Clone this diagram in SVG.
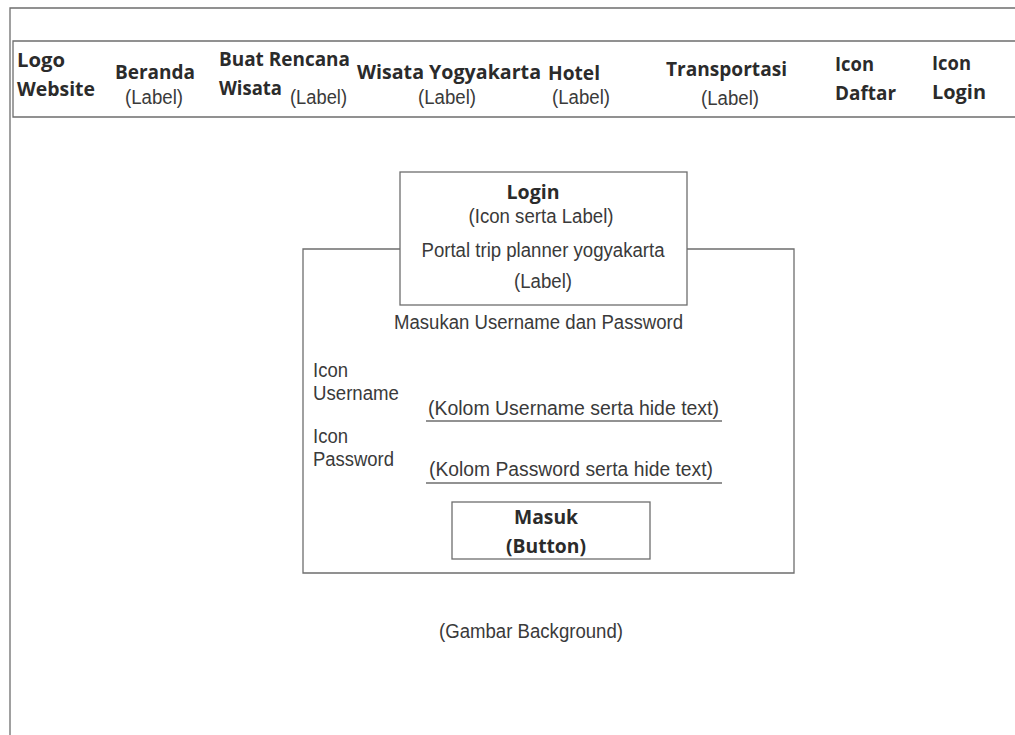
<svg xmlns="http://www.w3.org/2000/svg" width="1015" height="735" viewBox="0 0 1015 735">
  <style>
    .frame { fill: none; stroke: #6e6e6e; stroke-width: 1.3; }
    .b { font-family: "Open Sans", "Noto Sans", sans-serif; font-weight: bold; font-size: 19.5px; fill: #2b2b2b; }
    .r { font-family: "Liberation Sans", Arial, sans-serif; font-size: 20px; fill: #3a3a3a; }
    .c { text-anchor: middle; }
  </style>
  <rect width="1015" height="735" fill="#ffffff"/>

  <!-- page frame -->
  <path class="frame" d="M1015 8 H10 V735"/>

  <!-- navigation bar -->
  <g id="navbar">
    <path class="frame" d="M1015 41 H13 V117 H1015"/>
    <g id="nav-logo">
      <text class="b" x="17" y="67" textLength="48" lengthAdjust="spacingAndGlyphs">Logo</text>
      <text class="b" x="17" y="96" textLength="78" lengthAdjust="spacingAndGlyphs">Website</text>
    </g>
    <g id="nav-beranda">
      <text class="b" x="115" y="79" textLength="80" lengthAdjust="spacingAndGlyphs">Beranda</text>
      <text class="r" x="125" y="104" textLength="58" lengthAdjust="spacingAndGlyphs">(Label)</text>
    </g>
    <g id="nav-rencana">
      <text class="b" x="219" y="66" textLength="131" lengthAdjust="spacingAndGlyphs">Buat Rencana</text>
      <text class="b" x="219" y="95" textLength="63" lengthAdjust="spacingAndGlyphs">Wisata</text>
      <text class="r" x="290" y="104" textLength="57" lengthAdjust="spacingAndGlyphs">(Label)</text>
    </g>
    <g id="nav-wisata">
      <text class="b" x="357" y="79" textLength="184" lengthAdjust="spacingAndGlyphs">Wisata Yogyakarta</text>
      <text class="r" x="418" y="104" textLength="58" lengthAdjust="spacingAndGlyphs">(Label)</text>
    </g>
    <g id="nav-hotel">
      <text class="b" x="548" y="80" textLength="52" lengthAdjust="spacingAndGlyphs">Hotel</text>
      <text class="r" x="552" y="104" textLength="58" lengthAdjust="spacingAndGlyphs">(Label)</text>
    </g>
    <g id="nav-transportasi">
      <text class="b" x="666" y="76" textLength="121" lengthAdjust="spacingAndGlyphs">Transportasi</text>
      <text class="r" x="701" y="105" textLength="58" lengthAdjust="spacingAndGlyphs">(Label)</text>
    </g>
    <g id="nav-daftar">
      <text class="b" x="835" y="71" textLength="39" lengthAdjust="spacingAndGlyphs">Icon</text>
      <text class="b" x="835" y="100" textLength="61" lengthAdjust="spacingAndGlyphs">Daftar</text>
    </g>
    <g id="nav-login">
      <text class="b" x="932" y="70" textLength="39" lengthAdjust="spacingAndGlyphs">Icon</text>
      <text class="b" x="932" y="99" textLength="54" lengthAdjust="spacingAndGlyphs">Login</text>
    </g>
  </g>

  <!-- login panel -->
  <g id="login-panel">
    <path class="frame" d="M400 249 H303 V573 H794 V249 H687"/>
  </g>

  <g id="login-header">
    <rect class="frame" x="400" y="172" width="287" height="133"/>
    <text class="b c" x="533" y="199" textLength="53" lengthAdjust="spacingAndGlyphs">Login</text>
    <text class="r c" x="541" y="223" textLength="145" lengthAdjust="spacingAndGlyphs">(Icon serta Label)</text>
    <text class="r c" x="543" y="257" textLength="243" lengthAdjust="spacingAndGlyphs">Portal trip planner yogyakarta</text>
    <text class="r c" x="543" y="288" textLength="58" lengthAdjust="spacingAndGlyphs">(Label)</text>
  </g>

  <g id="instruction">
    <text class="r" x="394" y="329" textLength="289" lengthAdjust="spacingAndGlyphs">Masukan Username dan Password</text>
  </g>

  <g id="field-username">
    <text class="r" x="313" y="377" textLength="35" lengthAdjust="spacingAndGlyphs">Icon</text>
    <text class="r" x="313" y="400" textLength="86" lengthAdjust="spacingAndGlyphs">Username</text>
    <text class="r" x="428" y="415" textLength="291" lengthAdjust="spacingAndGlyphs">(Kolom Username serta hide text)</text>
    <line class="frame" x1="426" y1="421" x2="722" y2="421"/>
  </g>

  <g id="field-password">
    <text class="r" x="313" y="443" textLength="35" lengthAdjust="spacingAndGlyphs">Icon</text>
    <text class="r" x="313" y="466" textLength="81" lengthAdjust="spacingAndGlyphs">Password</text>
    <text class="r" x="429" y="476" textLength="284" lengthAdjust="spacingAndGlyphs">(Kolom Password serta hide text)</text>
    <line class="frame" x1="426" y1="483" x2="722" y2="483"/>
  </g>

  <g id="button-masuk">
    <rect class="frame" x="452" y="502" width="198" height="57"/>
    <text class="b c" x="546" y="524" textLength="64" lengthAdjust="spacingAndGlyphs">Masuk</text>
    <text class="b c" x="546" y="553" textLength="80" lengthAdjust="spacingAndGlyphs">(Button)</text>
  </g>

  <g id="background-note">
    <text class="r" x="439" y="638" textLength="184" lengthAdjust="spacingAndGlyphs">(Gambar Background)</text>
  </g>

  <g id="connectors"/>
</svg>
